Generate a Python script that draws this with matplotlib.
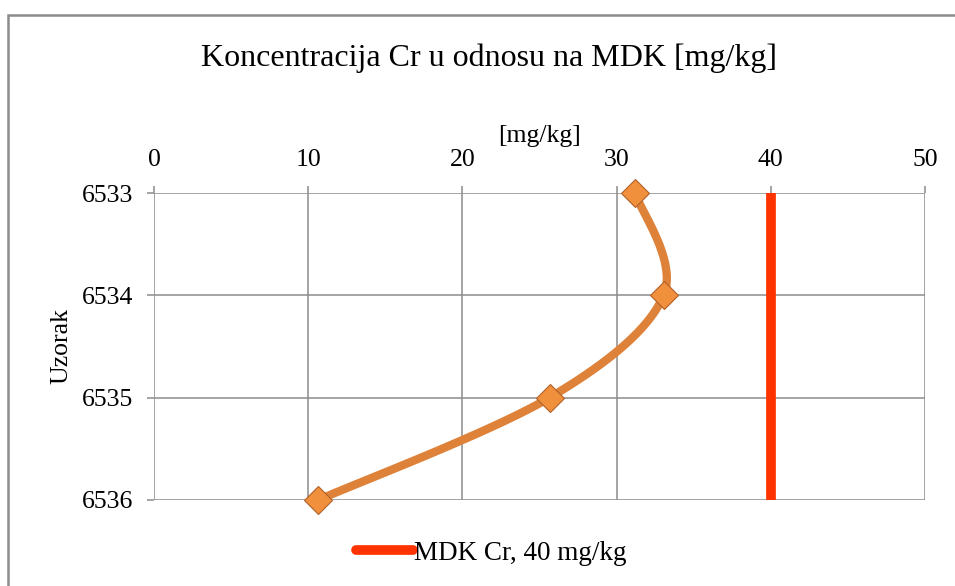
import numpy as np
import matplotlib
matplotlib.use("Agg")
import matplotlib.pyplot as plt
from matplotlib.patches import Rectangle

# data
samples = ["6533", "6534", "6535", "6536"]
cr_values = [31.2, 33.05, 25.65, 10.65]
mdk_limit = 40
x_ticks = [0, 10, 20, 30, 40, 50]

title = "Koncentracija Cr u odnosu na MDK [mg/kg]"
x_label = "[mg/kg]"
y_label = "Uzorak"
mdk_label = "MDK Cr, 40 mg/kg"

line_color = "#DE823A"
marker_face = "#F0903C"
marker_edge = "#B0602A"
mdk_color = "#FF3300"
grid_color = "#8C8C8C"


def catmull_rom(xs, ys, n=40):
    # Excel-like smoothed line (uniform Catmull-Rom through the points)
    px = np.concatenate([[xs[0]], xs, [xs[-1]]])
    py = np.concatenate([[ys[0]], ys, [ys[-1]]])
    out_x, out_y = [], []
    t = np.linspace(0, 1, n)
    for i in range(1, len(px) - 2):
        for p, out in ((px, out_x), (py, out_y)):
            p0, p1, p2, p3 = p[i - 1], p[i], p[i + 1], p[i + 2]
            seg = 0.5 * ((2 * p1) + (-p0 + p2) * t
                         + (2 * p0 - 5 * p1 + 4 * p2 - p3) * t ** 2
                         + (-p0 + 3 * p1 - 3 * p2 + p3) * t ** 3)
            out.extend(seg)
    return np.array(out_x), np.array(out_y)


plt.rcParams["font.family"] = ["Liberation Serif", "DejaVu Serif"]

W, H = 955, 586
fig = plt.figure(figsize=(W / 100, H / 100), dpi=100)
ax = fig.add_axes([154 / W, (H - 500) / H, (925 - 154) / W, (500 - 193) / H])

y_pos = np.arange(len(samples))
sx, sy = catmull_rom(np.array(cr_values), y_pos.astype(float))
ax.plot(sx, sy, color=line_color, lw=6, solid_capstyle="round", zorder=3,
        clip_on=False)
ax.plot(cr_values, y_pos, ls="none", marker="D", ms=14, mfc=marker_face,
        mec=marker_edge, mew=0.8, zorder=4, clip_on=False)
mdk_line, = ax.plot([mdk_limit, mdk_limit], [y_pos[0], y_pos[-1]],
                    color=mdk_color, lw=7, solid_capstyle="butt", zorder=2,
                    label=mdk_label)

ax.set_xlim(x_ticks[0], x_ticks[-1])
ax.set_ylim(y_pos[-1], y_pos[0])
ax.set_xticks(x_ticks)
ax.set_yticks(y_pos)
ax.set_yticklabels(samples)
ax.xaxis.tick_top()
ax.xaxis.set_label_position("top")
ax.tick_params(axis="both", direction="out", length=5, width=1.1,
               color=grid_color, labelsize=18.5)
ax.tick_params(axis="x", pad=11)
ax.tick_params(axis="y", pad=10)
ax.grid(True, color=grid_color, lw=1.1)
ax.set_axisbelow(True)
for s in ax.spines.values():
    s.set_visible(False)

ax.set_xlabel(x_label, fontsize=18.5, labelpad=5)
ax.set_ylabel(y_label, fontsize=18.5, labelpad=7)

fig.text(489 / W, 1 - 58 / H, title, ha="center", va="center", fontsize=23)

leg = fig.legend(handles=[mdk_line], loc="center",
                 bbox_to_anchor=(491 / W, 1 - 553 / H), frameon=False,
                 fontsize=19.5, handlelength=2.1, handletextpad=0.05)
for h in leg.get_lines():
    h.set_solid_capstyle("round")

fig.patches.append(Rectangle((7.5 / W, -0.1), 1.2, 1 - 15 / H + 0.1,
                             transform=fig.transFigure, fill=False,
                             edgecolor=grid_color, lw=1.8))

fig.savefig("out.png", dpi=100)
